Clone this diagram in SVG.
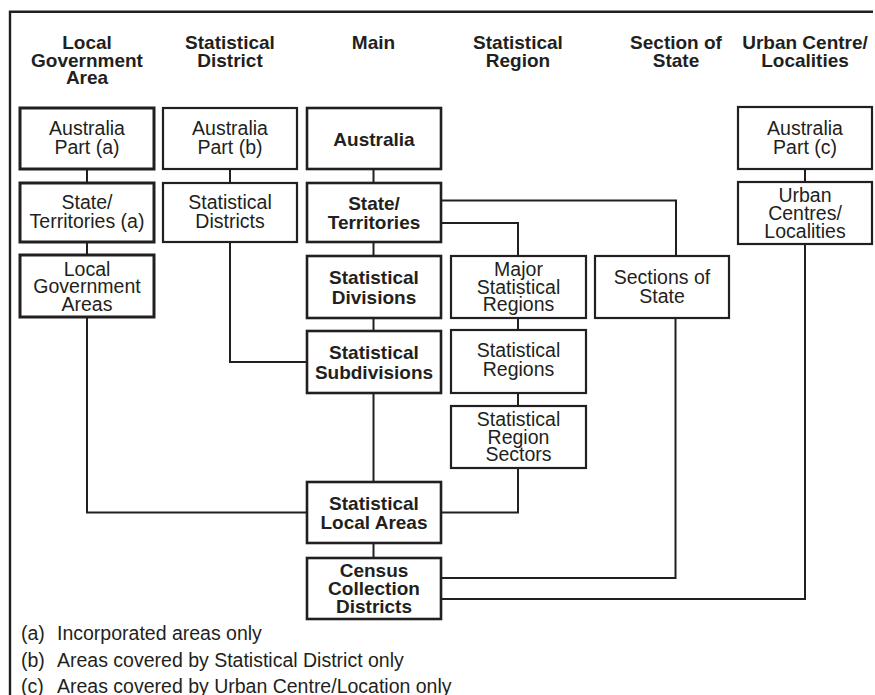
<svg xmlns="http://www.w3.org/2000/svg" width="875" height="695" viewBox="0 0 875 695">
  <style>
    .frame { fill: none; stroke: #231f20; stroke-width: 2.4; }
    .box { fill: #ffffff; stroke: #231f20; stroke-width: 2.2; }
    .box.lga { stroke-width: 3; }
    .box.main { stroke-width: 2.6; }
    .conn { fill: none; stroke: #231f20; stroke-width: 2; }
    text { font-family: "Liberation Sans", Arial, sans-serif; fill: #231f20; text-anchor: middle; }
    .hd { font-weight: bold; font-size: 19px; }
    .t { font-size: 19.5px; }
    .b { font-weight: bold; font-size: 19px; }
    .note { font-size: 19.5px; text-anchor: start; }
  </style>

  <!-- outer frame (open on the right and bottom) -->
  <path class="frame" d="M10,695 V11.7 H873"/>

  <!-- column headings -->
  <g id="headings">
    <text class="hd" x="87" y="49">Local</text>
    <text class="hd" x="87" y="66.5">Government</text>
    <text class="hd" x="87" y="83.5">Area</text>
    <text class="hd" x="230" y="49">Statistical</text>
    <text class="hd" x="230" y="67">District</text>
    <text class="hd" x="373.5" y="49">Main</text>
    <text class="hd" x="518" y="49">Statistical</text>
    <text class="hd" x="518" y="67">Region</text>
    <text class="hd" x="676" y="49">Section of</text>
    <text class="hd" x="676" y="67">State</text>
    <text class="hd" x="805" y="49">Urban Centre/</text>
    <text class="hd" x="805" y="67">Localities</text>
  </g>

  <!-- connectors -->
  <g id="connectors" class="conn">
    <path d="M87,169 V183"/>
    <path d="M87,242 V255"/>
    <path d="M87,317 V512.5 H307"/>
    <path d="M230,169 V183"/>
    <path d="M230,242 V362 H307"/>
    <path d="M373.5,169 V183"/>
    <path d="M373.5,242 V256"/>
    <path d="M373.5,318 V331"/>
    <path d="M373.5,393 V482"/>
    <path d="M373.5,543 V558"/>
    <path d="M441,200.5 H676 V256"/>
    <path d="M441,223 H518 V256"/>
    <path d="M518,318 V330"/>
    <path d="M518,393 V406"/>
    <path d="M518,468 V512.5 H442"/>
    <path d="M675.5,318 V578 H441"/>
    <path d="M805,169 V182"/>
    <path d="M805,244 V599 H441"/>
  </g>

  <!-- Local Government Area column -->
  <g id="lga-australia-part">
    <rect class="box lga" x="20" y="108" width="134" height="61"/>
    <text class="t" x="87" y="135">Australia</text>
    <text class="t" x="87" y="154">Part (a)</text>
  </g>
  <g id="lga-state-territories">
    <rect class="box lga" x="20" y="183" width="134" height="59"/>
    <text class="t" x="87" y="209">State/</text>
    <text class="t" x="87" y="228">Territories (a)</text>
  </g>
  <g id="lga-areas">
    <rect class="box lga" x="20" y="255" width="134" height="62"/>
    <text class="t" x="87" y="276">Local</text>
    <text class="t" x="87" y="293.3">Government</text>
    <text class="t" x="87" y="310.6">Areas</text>
  </g>

  <!-- Statistical District column -->
  <g id="sd-australia-part">
    <rect class="box" x="163" y="108" width="134" height="61"/>
    <text class="t" x="230" y="135">Australia</text>
    <text class="t" x="230" y="154">Part (b)</text>
  </g>
  <g id="sd-districts">
    <rect class="box" x="163" y="183" width="134" height="59"/>
    <text class="t" x="230" y="209">Statistical</text>
    <text class="t" x="230" y="228">Districts</text>
  </g>

  <!-- Main column -->
  <g id="main-australia">
    <rect class="box main" x="307" y="108" width="134" height="61"/>
    <text class="b" x="374" y="145.5">Australia</text>
  </g>
  <g id="main-state-territories">
    <rect class="box main" x="307" y="183" width="134" height="59"/>
    <text class="b" x="374" y="209.5">State/</text>
    <text class="b" x="374" y="228.5">Territories</text>
  </g>
  <g id="main-divisions">
    <rect class="box main" x="307" y="256" width="134" height="62"/>
    <text class="b" x="374" y="284.3">Statistical</text>
    <text class="b" x="374" y="304">Divisions</text>
  </g>
  <g id="main-subdivisions">
    <rect class="box main" x="307" y="331" width="134" height="62"/>
    <text class="b" x="374" y="359">Statistical</text>
    <text class="b" x="374" y="378.5">Subdivisions</text>
  </g>
  <g id="main-local-areas">
    <rect class="box main" x="307" y="482" width="134" height="61"/>
    <text class="b" x="374" y="509.5">Statistical</text>
    <text class="b" x="374" y="529">Local Areas</text>
  </g>
  <g id="main-collection-districts">
    <rect class="box main" x="307" y="558" width="134" height="61"/>
    <text class="b" x="374" y="576.7">Census</text>
    <text class="b" x="374" y="595">Collection</text>
    <text class="b" x="374" y="612.7">Districts</text>
  </g>

  <!-- Statistical Region column -->
  <g id="sr-major">
    <rect class="box" x="451" y="256" width="135" height="62"/>
    <text class="t" x="518.5" y="276">Major</text>
    <text class="t" x="518.5" y="293.5">Statistical</text>
    <text class="t" x="518.5" y="311">Regions</text>
  </g>
  <g id="sr-regions">
    <rect class="box" x="451" y="330" width="135" height="63"/>
    <text class="t" x="518.5" y="357">Statistical</text>
    <text class="t" x="518.5" y="376">Regions</text>
  </g>
  <g id="sr-sectors">
    <rect class="box" x="451" y="406" width="135" height="62"/>
    <text class="t" x="518.5" y="426">Statistical</text>
    <text class="t" x="518.5" y="443.5">Region</text>
    <text class="t" x="518.5" y="461">Sectors</text>
  </g>

  <!-- Section of State column -->
  <g id="sos-sections">
    <rect class="box" x="595" y="256" width="134" height="62"/>
    <text class="t" x="662" y="283.5">Sections of</text>
    <text class="t" x="662" y="302.5">State</text>
  </g>

  <!-- Urban Centre/Localities column -->
  <g id="ucl-australia-part">
    <rect class="box" x="738" y="107" width="134" height="62"/>
    <text class="t" x="805" y="135">Australia</text>
    <text class="t" x="805" y="154">Part (c)</text>
  </g>
  <g id="ucl-centres">
    <rect class="box" x="738" y="182" width="134" height="62"/>
    <text class="t" x="805" y="202.3">Urban</text>
    <text class="t" x="805" y="220">Centres/</text>
    <text class="t" x="805" y="237.6">Localities</text>
  </g>

  <!-- footnotes -->
  <g id="notes">
    <text class="note" x="21" y="640">(a)</text>
    <text class="note" x="57" y="640">Incorporated areas only</text>
    <text class="note" x="21" y="666.5">(b)</text>
    <text class="note" x="57" y="666.5">Areas covered by Statistical District only</text>
    <text class="note" x="21" y="693">(c)</text>
    <text class="note" x="57" y="693">Areas covered by Urban Centre/Location only</text>
  </g>
</svg>
